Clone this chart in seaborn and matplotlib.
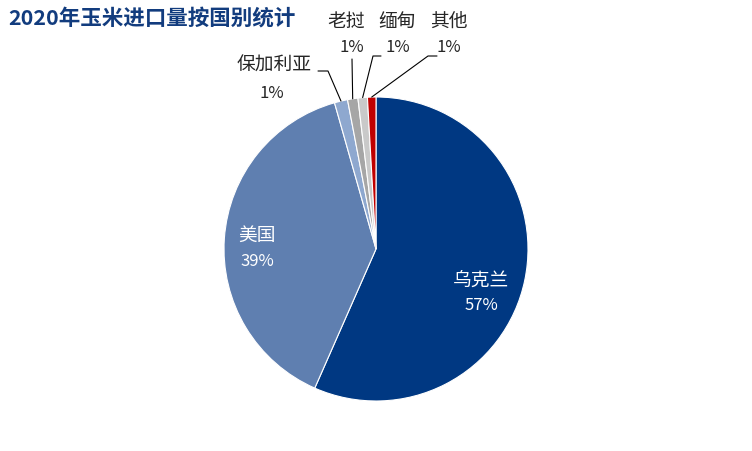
import numpy as np
import matplotlib
matplotlib.use("Agg")
import matplotlib.pyplot as plt
import seaborn as sns

# 2020年玉米进口量按国别统计（占比，%）
countries = ["乌克兰", "美国", "保加利亚", "老挝", "缅甸", "其他"]
shares = [56.6, 39.0, 1.4, 1.1, 1.0, 0.9]
colors = ["#003882", "#5F7FB0", "#8EA8CF", "#A6A6A6", "#C9C9C9", "#C00000"]
title = "2020年玉米进口量按国别统计"

sns.set_theme(style="white")
plt.rcParams["font.family"] = ["Noto Sans CJK SC", "DejaVu Sans"]

W, H = 752, 452
cx, cy, R = 376, 250, 152
fig = plt.figure(figsize=(W / 100, H / 100), dpi=100)
ax = fig.add_axes([0, 0, 1, 1])

wedges, _ = ax.pie(shares, colors=colors, startangle=90, counterclock=False,
                   radius=1, wedgeprops=dict(edgecolor="white", linewidth=0.8))

# pie() resets the limits, so fix them afterwards (1 data unit = R pixels)
ax.set_xlim(-cx / R, (W - cx) / R)
ax.set_ylim(-(H - cy) / R, cy / R)
ax.set_aspect("equal")
ax.axis("off")


def px(x, y):
    # pixel position -> data coordinates
    return (x - cx) / R, (cy - y) / R


def edge(w, r=1.0):
    a = np.deg2rad((w.theta1 + w.theta2) / 2)
    return r * np.cos(a), r * np.sin(a)


pct = [f"{v:.0f}%" for v in shares]
name_fs, pct_fs = 13.5, 12

# inside labels
ax.text(*px(481, 280), countries[0], color="white", fontsize=name_fs, ha="center", va="center")
ax.text(*px(481, 306), pct[0], color="white", fontsize=pct_fs, ha="center", va="center")
ax.text(*px(257, 235), countries[1], color="white", fontsize=name_fs, ha="center", va="center")
ax.text(*px(257, 262), pct[1], color="white", fontsize=pct_fs, ha="center", va="center")

txt = "#262626"
# 保加利亚
ax.text(*px(274, 65), countries[2], color=txt, fontsize=name_fs, ha="center", va="center")
ax.text(*px(272, 93), pct[2], color=txt, fontsize=pct_fs, ha="center", va="center")
x0, y0 = edge(wedges[2])
ax.plot([px(318, 72)[0], px(328, 72)[0], x0], [px(318, 72)[1], px(328, 72)[1], y0],
        color="black", lw=0.8)

# 老挝
ax.text(*px(346, 21), countries[3], color=txt, fontsize=name_fs, ha="center", va="center")
ax.text(*px(352, 48), pct[3], color=txt, fontsize=pct_fs, ha="center", va="center")
x0, y0 = edge(wedges[3])
ax.plot([px(352, 60)[0], x0], [px(352, 60)[1], y0], color="black", lw=0.8)

# 缅甸
ax.text(*px(397, 21), countries[4], color=txt, fontsize=name_fs, ha="center", va="center")
ax.text(*px(398, 48), pct[4], color=txt, fontsize=pct_fs, ha="center", va="center")
x0, y0 = edge(wedges[4])
ax.plot([px(381, 57)[0], px(373, 57)[0], x0], [px(381, 57)[1], px(373, 57)[1], y0],
        color="black", lw=0.8)

# 其他
ax.text(*px(449, 21), countries[5], color=txt, fontsize=name_fs, ha="center", va="center")
ax.text(*px(449, 48), pct[5], color=txt, fontsize=pct_fs, ha="center", va="center")
x0, y0 = edge(wedges[5])
ax.plot([px(437, 57)[0], px(428, 57)[0], x0], [px(437, 57)[1], px(428, 57)[1], y0],
        color="black", lw=0.8)

fig.text(8 / W, 1 - 18 / H, title, color="#123C7E", fontsize=15.5, fontweight="bold",
         ha="left", va="center")

plt.savefig("out.png", dpi=100)
plt.close()
